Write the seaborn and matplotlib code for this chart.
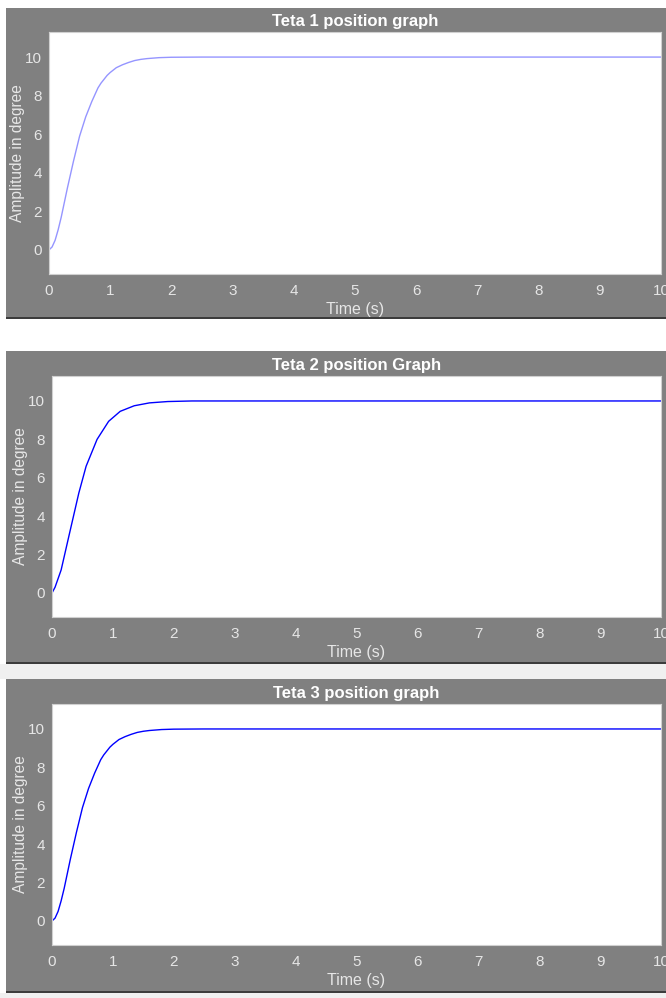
import numpy as np
import pandas as pd
import seaborn as sns
import matplotlib
matplotlib.use("Agg")
import matplotlib.pyplot as plt
from matplotlib.patches import Rectangle

# values
t_smooth = [0, 0.05, 0.1, 0.15, 0.2, 0.25, 0.3, 0.35, 0.4, 0.45, 0.5, 0.55, 0.6, 0.65, 0.7, 0.75, 0.8,
            0.85, 0.9, 0.95, 1.0, 1.1, 1.2, 1.3, 1.4, 1.5, 1.6, 1.8, 2.0, 2.5, 3.0, 10.0]
teta1 = [0, 0.15, 0.5, 1.05, 1.7, 2.45, 3.2, 3.9, 4.6, 5.25, 5.9, 6.4, 6.9, 7.3, 7.7, 8.05, 8.4,
         8.65, 8.85, 9.05, 9.2, 9.45, 9.6, 9.72, 9.82, 9.88, 9.92, 9.97, 9.99, 10, 10, 10]
teta3 = [0, 0.15, 0.5, 1.05, 1.7, 2.45, 3.2, 3.9, 4.6, 5.25, 5.9, 6.4, 6.9, 7.3, 7.7, 8.05, 8.4,
         8.65, 8.85, 9.05, 9.2, 9.45, 9.6, 9.72, 9.82, 9.88, 9.92, 9.97, 9.99, 10, 10, 10]

t_coarse = [0, 0.05, 0.15, 0.28, 0.44, 0.56, 0.74, 0.93, 1.12, 1.35, 1.6, 1.9, 2.3, 3.0, 10.0]
teta2 = [0, 0.3, 1.2, 3.0, 5.2, 6.6, 8.0, 8.94, 9.46, 9.75, 9.9, 9.97, 10, 10, 10]

titles = ["Teta 1 position graph", "Teta 2 position Graph", "Teta 3 position graph"]
x_ticks = list(range(0, 11))
y_ticks = [0, 2, 4, 6, 8, 10]

sns.set_style("white")
plt.rcParams['font.family'] = ['Liberation Sans', 'DejaVu Sans']

W, H = 666, 998
fig = plt.figure(figsize=(W / 100, H / 100), dpi=100)
fig.patch.set_facecolor("white")

def px_rect(x0, y0, x1, y1, color, z=-5):
    fig.patches.append(Rectangle((x0 / W, 1 - y1 / H), (x1 - x0) / W, (y1 - y0) / H,
                                 transform=fig.transFigure, facecolor=color,
                                 edgecolor="none", zorder=z))

def px_axes(x0, y0, x1, y1):
    return fig.add_axes([x0 / W, 1 - y1 / H, (x1 - x0) / W, (y1 - y0) / H], zorder=5)

# panel boxes: gray frame, plot area
panels = [
    ((6, 8, 666, 318), (49, 32, 661, 274)),
    ((6, 351, 666, 663), (52, 376, 661, 617)),
    ((6, 679, 666, 992), (52, 704, 661, 945)),
]

# light strips under panel 2 and 3
px_rect(0, 664, 666, 679, "#f0f0f0")
px_rect(0, 993, 666, 998, "#f0f0f0")

data = [
    pd.DataFrame({"t": t_smooth, "y": teta1}),
    pd.DataFrame({"t": t_coarse, "y": teta2}),
    pd.DataFrame({"t": t_smooth, "y": teta3}),
]
colors = ["#9595ff", "#0000ff", "#0000ff"]

for i, (frame, box) in enumerate(panels):
    px_rect(*frame, "#808080")
    px_rect(frame[0], frame[3] - 1, frame[2], frame[3] + 1, "#3c3c3c", z=-4)
    ax = px_axes(*box)
    sns.lineplot(data=data[i], x="t", y="y", ax=ax, color=colors[i], linewidth=1.0)
    ax.set_xlim(0, 10)
    ax.set_ylim(-1.25, 11.3)
    ax.set_facecolor("white")
    ax.set_xticks(x_ticks)
    ax.set_yticks(y_ticks)
    ax.tick_params(length=0, labelsize=11, colors="#e6e6e6")
    ax.tick_params(axis="x", pad=7)
    ax.tick_params(axis="y", pad=5)
    for s in ax.spines.values():
        s.set_color("#d0d0d0")
        s.set_linewidth(0.8)
    ax.set_xlabel("Time (s)", color="#e6e6e6", fontsize=11.5, labelpad=3)
    ax.set_ylabel("Amplitude in degree", color="#e6e6e6", fontsize=11.2, labelpad=0)
    ax.set_title(titles[i], color="white", fontsize=12, fontweight="bold", pad=4)

fig.savefig("out.png", dpi=100)
